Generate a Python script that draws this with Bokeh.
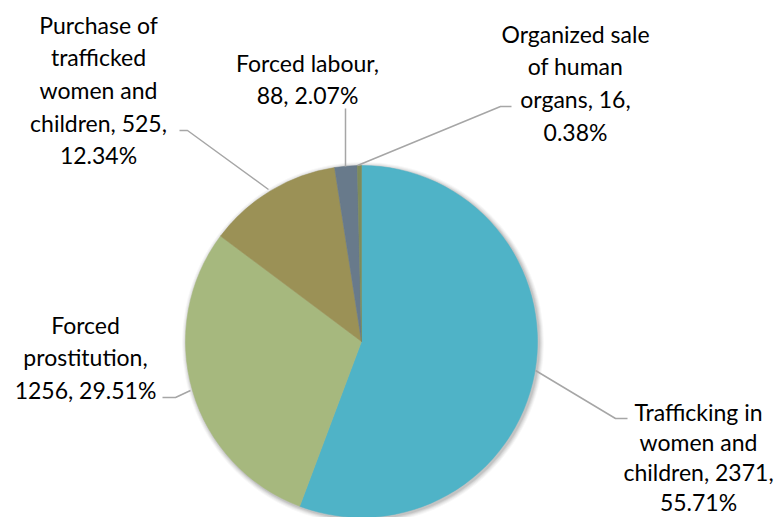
import math
from bokeh.plotting import figure
from bokeh.models import Range1d
from bokeh.core.properties import value
from bokeh.embed import file_html
from bokeh.resources import INLINE

# ---- data (clockwise from 12 o'clock) ----
categories = ["Trafficking in women and children", "Forced prostitution",
              "Purchase of trafficked women and children", "Forced labour",
              "Organized sale of human organs"]
counts = [2371, 1256, 525, 88, 16]
percents = ["55.71%", "29.51%", "12.34%", "2.07%", "0.38%"]
colors = ["#4FB3C7", "#A6B87E", "#9B9156", "#687A8B", "#7E8B5B"]
label_lines = [
    ["Trafficking in", "women and", "children, 2371,", "55.71%"],
    ["Forced", "prostitution,", "1256, 29.51%"],
    ["Purchase of", "trafficked", "women and", "children, 525,", "12.34%"],
    ["Forced labour,", "88, 2.07%"],
    ["Organized sale", "of human", "organs, 16,", "0.38%"],
]

W, H = 781, 517
IMG_H = 517


def Y(y):
    return IMG_H - y


p = figure(width=W, height=H, output_backend="svg", toolbar_location=None,
           x_range=Range1d(0, W), y_range=Range1d(0, H),
           min_border=0)
p.axis.visible = False
p.grid.visible = False
p.outline_line_color = None
p.background_fill_color = "white"

cx, cy, r = 361, Y(341), 176

# soft shadow
for k, a in [(5, 0.03), (4, 0.04), (3, 0.05), (2, 0.06), (1, 0.07)]:
    p.circle(x=[cx + 1.5], y=[cy - 1.5], radius=r + k, fill_color="#000000",
             fill_alpha=a, line_color=None)

total = sum(counts)
start = math.pi / 2
starts, ends = [], []
for c in counts:
    ang = 2 * math.pi * c / total
    starts.append(start)
    ends.append(start - ang)
    start -= ang

p.wedge(x=cx, y=cy, radius=r, start_angle=starts, end_angle=ends,
        direction="clock", fill_color=colors, line_color=colors, line_width=0.5)

# leader lines
leaders = [
    [(535, 370), (615, 418), (627, 418)],
    [(190, 390), (175, 397), (162, 397)],
    [(268, 189), (187, 130), (179, 130)],
    [(345, 166), (345, 108)],
    [(357, 165), (500, 106), (511, 106)],
]
for pts in leaders:
    p.line(x=[q[0] for q in pts], y=[Y(q[1]) for q in pts],
           line_color="#A6A6A6", line_width=1.5)

# labels: (center x, first line y, line spacing)
label_pos = [
    (698, 411, 30.3),
    (85, 324, 32.5),
    (98, 24, 32.7),
    (307, 62, 32.5),
    (575, 33, 32.7),
]
for lines, (lx, ly, ls) in zip(label_lines, label_pos):
    xs = [lx] * len(lines)
    ys = [Y(ly + i * ls) for i in range(len(lines))]
    p.text(x=xs, y=ys, text=lines, text_align="center", text_baseline="middle",
           text_font=value("Lato"), text_font_size="23px", text_color="#000000")

open("out.html", "w").write(file_html(p, INLINE))
